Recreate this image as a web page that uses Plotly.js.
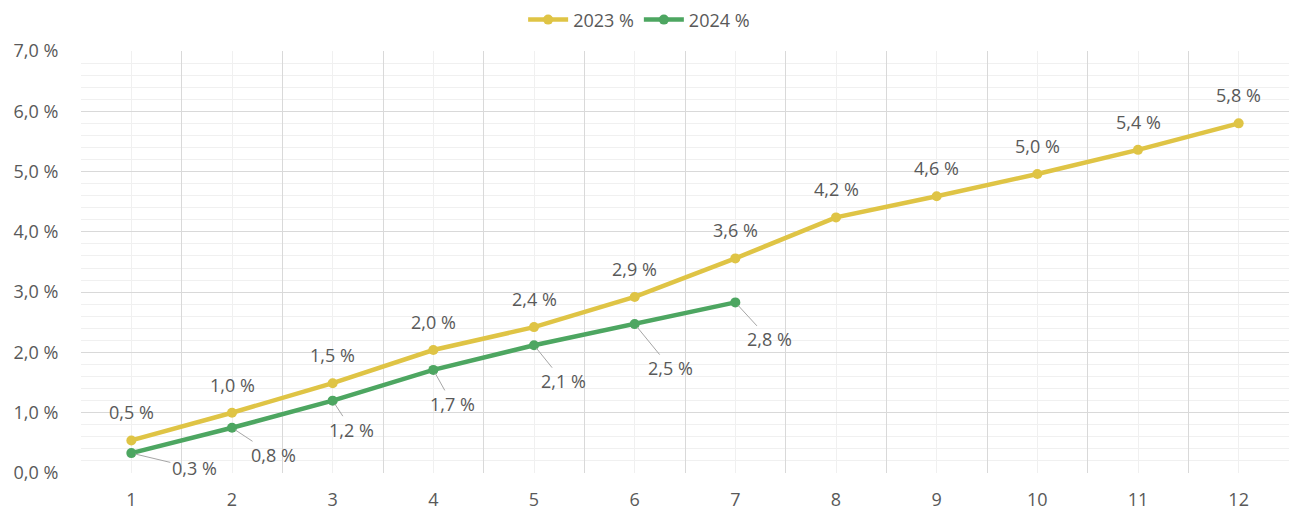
<!DOCTYPE html>
<html>
<head>
<meta charset="utf-8">
<script src="https://cdn.plot.ly/plotly-3.0.1.min.js"></script>
<style>html,body{margin:0;padding:0;background:#fff;}#chart{width:1292px;height:510px;}</style>
</head>
<body>
<div id="chart"></div>
<script>
const months = [1, 2, 3, 4, 5, 6, 7, 8, 9, 10, 11, 12];
const monthLabels = ['1', '2', '3', '4', '5', '6', '7', '8', '9', '10', '11', '12'];
const values2023 = [0.54, 1.0, 1.49, 2.04, 2.42, 2.92, 3.56, 4.24, 4.59, 4.96, 5.36, 5.8];
const months2024 = [1, 2, 3, 4, 5, 6, 7];
const values2024 = [0.33, 0.75, 1.2, 1.71, 2.12, 2.47, 2.83];
const name2023 = '2023 %';
const name2024 = '2024 %';
// pixel offsets of the 2024 data labels (style, not data)
const labelOffsets2024 = [[63, 15], [41, 27], [19, 29], [19, 34], [29, 36], [36, 44], [34, 37]];

const yellow = '#DFC445';
const green = '#4DA661';
const txt = '#595959';
const fontFam = 'Open Sans, Liberation Sans, sans-serif';
const fs = 18;

function fmt(v) { return v.toFixed(1).replace('.', ',') + ' %'; }

const traces = [
  {
    x: months, y: values2023, name: name2023, type: 'scatter', mode: 'lines+markers',
    line: {color: yellow, width: 4.5}, marker: {color: yellow, size: 10}
  },
  {
    x: months2024, y: values2024, name: name2024, type: 'scatter', mode: 'lines+markers',
    line: {color: green, width: 4.5}, marker: {color: green, size: 10}
  },
  {
    x: months, y: months.map(() => null), xaxis: 'x2', type: 'scatter', mode: 'lines',
    showlegend: false, hoverinfo: 'skip'
  }
];

const annotations = [];
values2023.forEach((v, i) => {
  annotations.push({
    x: months[i], y: v, xref: 'x', yref: 'y', text: fmt(v), showarrow: false,
    yshift: 28, font: {family: fontFam, size: fs, color: txt}
  });
});
values2024.forEach((v, i) => {
  annotations.push({
    x: months2024[i], y: v, xref: 'x', yref: 'y', text: fmt(v), showarrow: true,
    arrowhead: 0, arrowwidth: 1, arrowcolor: '#a6a6a6', standoff: 4,
    ax: labelOffsets2024[i][0], ay: labelOffsets2024[i][1],
    font: {family: fontFam, size: fs, color: txt}
  });
});

const layout = {
  width: 1292, height: 510,
  margin: {l: 81, r: 3, t: 51, b: 37},
  paper_bgcolor: '#fff', plot_bgcolor: '#fff',
  separators: ', ',
  font: {family: fontFam, size: fs, color: txt},
  showlegend: true,
  legend: {
    orientation: 'h', x: 0.366, xanchor: 'left', y: 0.961, yanchor: 'middle', yref: 'container',
    font: {family: fontFam, size: fs, color: txt}, itemwidth: 40, tracegroupgap: 0
  },
  xaxis: {
    range: [0.5, 12.5], tickmode: 'array', tickvals: months, ticktext: monthLabels,
    showgrid: true, gridcolor: '#f0f0f0', gridwidth: 1, zeroline: false, showline: false,
    ticks: 'outside', ticklen: 10, tickcolor: 'rgba(0,0,0,0)',
    tickfont: {family: fontFam, size: fs, color: txt}, fixedrange: true
  },
  xaxis2: {
    overlaying: 'x', anchor: 'y', range: [0.5, 12.5], tick0: 0.5, dtick: 1, tickmode: 'linear',
    showticklabels: false, ticks: '', showgrid: true, gridcolor: '#d9d9d9', gridwidth: 1,
    zeroline: false, showline: false
  },
  yaxis: {
    range: [0, 7], dtick: 1, tick0: 0, tickformat: '.1f', ticksuffix: ' %',
    showgrid: true, gridcolor: '#d9d9d9', gridwidth: 1, zeroline: false, showline: false,
    ticks: 'outside', ticklen: 18, tickcolor: 'rgba(0,0,0,0)',
    tickfont: {family: fontFam, size: fs, color: txt},
    minor: {dtick: 0.2, tick0: 0, showgrid: true, gridcolor: '#f0f0f0', gridwidth: 1}
  },
  annotations: annotations
};

Plotly.newPlot('chart', traces, layout, {displayModeBar: false, staticPlot: true});
</script>
</body>
</html>
